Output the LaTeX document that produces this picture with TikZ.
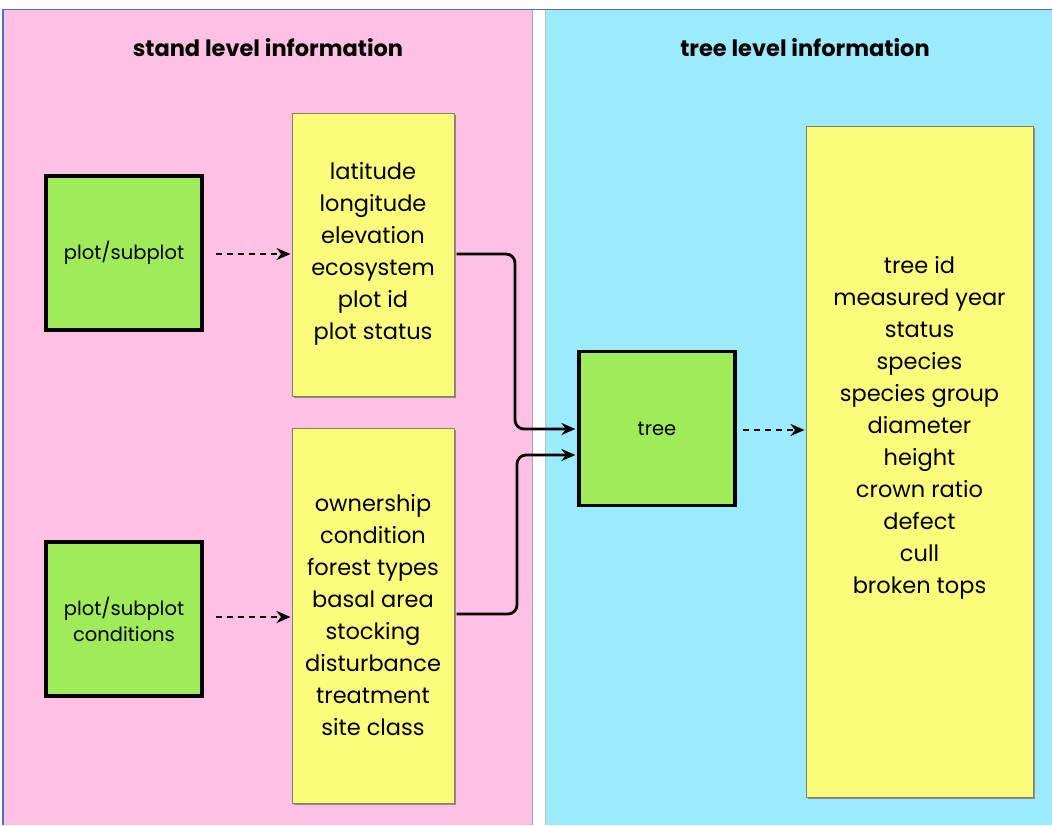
\documentclass[tikz,border=0pt]{standalone}
\usepackage{fontspec}
\setmainfont{Poppins}
\usetikzlibrary{arrows.meta}
\definecolor{pinkbg}{RGB}{255,192,230}
\definecolor{bluebg}{RGB}{155,235,253}
\definecolor{greenbox}{RGB}{160,235,90}
\definecolor{yellowbox}{RGB}{252,252,124}
\definecolor{edgeblue}{RGB}{80,110,200}
\definecolor{yedge}{RGB}{130,130,100}
\tikzset{
  greenbox/.style={draw=black, line width=3.2pt, fill=greenbox, minimum width=156pt, minimum height=154pt, align=center, inner sep=0pt, font=\fontsize{19.5}{26}\selectfont},
  yellowbox/.style={draw=yedge, line width=1pt, fill=yellowbox, inner sep=0pt},
  listtext/.style={align=center, font=\fontsize{22.5}{32}\selectfont, inner sep=0pt},
  titletext/.style={font=\bfseries\fontsize{22.5}{26}\selectfont, inner sep=0pt},
  dasharrow/.style={line width=2.8pt, dash pattern=on 6pt off 5pt, -{Stealth[length=14pt,width=12pt]}},
  solidarrow/.style={line width=2.8pt, rounded corners=9pt, -{Stealth[length=14pt,width=12pt]}}
}
\begin{document}
\begin{tikzpicture}[x=1pt,y=-1pt]
\useasboundingbox (0,0) rectangle (1052,825);
\fill[white] (0,0) rectangle (1052,825);
% panels
\fill[pinkbg] (3,10) rectangle (532,825);
\fill[bluebg] (545,10) rectangle (1052,825);
\draw[gray!70, line width=0.8pt] (532,10) -- (532,825);
\draw[gray!50, line width=0.8pt] (545,10) -- (545,825);
\draw[edgeblue, line width=1.2pt] (3,825) -- (3,9.5) -- (1052,9.5);
% titles
\node[titletext] (t1) at (268,48) {stand level information};
\node[titletext] (t2) at (805,48) {tree level information};
% yellow boxes with shadows
\fill[black!45] (294,115) rectangle (456,398);
\node[yellowbox, minimum width=162pt, minimum height=283pt] (y1) at (373,254.5) {};
\node[listtext] (y1t) at (373,254) {latitude\\longitude\\elevation\\ecosystem\\plot id\\plot status};
\fill[black!45] (294,430) rectangle (456,805);
\node[yellowbox, minimum width=162pt, minimum height=375pt] (y2) at (373,615.5) {};
\node[listtext] (y2t) at (373,615) {ownership\\condition\\forest types\\basal area\\stocking\\disturbance\\treatment\\site class};
\fill[black!45] (808,128) rectangle (1035,799);
\node[yellowbox, minimum width=227pt, minimum height=671pt] (y3) at (919.5,461.5) {};
\node[listtext] (y3t) at (919.5,428) {tree id\\measured year\\status\\species\\species group\\diameter\\height\\crown ratio\\defect\\cull\\broken tops};
% green boxes
\node[greenbox] (g1) at (124,253) {plot/subplot};
\node[greenbox] (g2) at (124,619) {plot/subplot\\conditions};
\node[greenbox] (tree) at (657,428.5) {tree};
% arrows
\draw[dasharrow] ([xshift=12pt]g1.east |- 0,254) -- ([xshift=-1pt]y1.west |- 0,254);
\draw[dasharrow] ([xshift=12pt]g2.east |- 0,617) -- ([xshift=-1pt]y2.west |- 0,617);
\draw[dasharrow] ([xshift=6pt]tree.east |- 0,430) -- ([xshift=-1pt]y3.west |- 0,430);
\draw[solidarrow] ([xshift=2pt]y1.east |- 0,254) -- (515,254) -- (515,429) -- ([xshift=-2pt]tree.west |- 0,429);
\draw[solidarrow] ([xshift=2pt]y2.east |- 0,614) -- (517,614) -- (517,455) -- ([xshift=-2pt]tree.west |- 0,455);
\end{tikzpicture}
\end{document}
